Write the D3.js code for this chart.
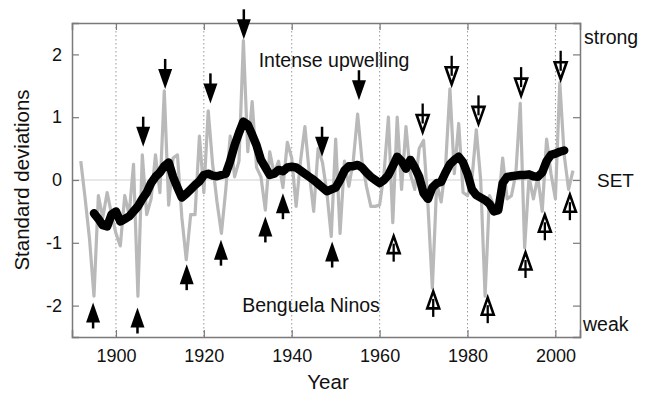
<!DOCTYPE html>
<html>
<head>
<meta charset="utf-8">
<script src="https://cdn.jsdelivr.net/npm/d3@7"></script>
<style>
  html, body { margin: 0; padding: 0; background: #fff; }
  svg { display: block; font-family: "Liberation Sans", Arial, sans-serif; }
</style>
</head>
<body>
<svg id="chart" width="646" height="395"></svg>
<script>
// ---- data ----
const annualYears = d3.range(1892, 2005);
const annualValues = [
  0.30, -0.30, -0.95, -1.85, -0.25, -0.60, -0.20, -0.55, -0.85, -1.05,
  -0.25, -0.55, 0.25, -1.85, 0.40, -0.55, -0.30, 0.40, -0.20, 1.42,
  -0.40, 0.35, 0.40, -0.60, -1.27, -0.55, -0.55, 0.70, -0.20, 1.10,
  0.25, -0.35, -0.85, -0.15, 0.70, 0.05, 0.30, 2.22, 0.45, 1.25,
  0.20, 0.05, -0.48, 0.45, 0.10, 0.30, -0.12, 0.60, 0.35, -0.42,
  0.30, 0.85, 0.10, -0.50, 0.50, 0.28, -0.20, -0.90, 0.65, -0.85,
  0.30, -0.10, 0.30, 1.05, 0.30, -0.10, -0.42, -0.42, -0.40, 0.10,
  1.00, -0.68, 1.00, -0.15, 0.85, 0.10, -0.15, 0.50, 0.63, -0.40,
  -1.72, -0.05, -0.35, 0.20, 1.45, 0.10, 0.90, -0.20, -0.25, 0.00,
  0.80, 0.00, -1.85, -0.25, -0.40, -0.40, 0.35, -0.30, -0.25, 0.10,
  1.22, -1.08, 0.05, -0.30, 0.05, -0.50, 0.65, 0.10, -0.30, 1.55,
  0.40, -0.15, 0.15
];
const setYears = d3.range(1895, 2003);
const setValues = [
  -0.53, -0.62, -0.72, -0.74, -0.55, -0.50, -0.66, -0.62, -0.58, -0.50,
  -0.42, -0.30, -0.20, -0.05, 0.05, 0.12, 0.22, 0.28, 0.05, -0.12,
  -0.28, -0.22, -0.15, -0.08, -0.02, 0.08, 0.10, 0.07, 0.06, 0.08,
  0.10, 0.30, 0.55, 0.75, 0.93, 0.88, 0.72, 0.55, 0.32, 0.20,
  0.08, 0.10, 0.16, 0.14, 0.20, 0.21, 0.20, 0.15, 0.10, 0.05,
  0.00, -0.06, -0.12, -0.18, -0.15, -0.12, 0.00, 0.15, 0.22, 0.22,
  0.24, 0.20, 0.12, 0.05, 0.00, -0.05, 0.00, 0.08, 0.22, 0.37,
  0.30, 0.18, 0.32, 0.20, 0.05, -0.21, -0.30, -0.12, -0.05, -0.03,
  0.12, 0.25, 0.32, 0.37, 0.28, 0.10, -0.15, -0.24, -0.28, -0.32,
  -0.38, -0.50, -0.48, -0.05, 0.05, 0.06, 0.07, 0.08, 0.08, 0.09,
  0.06, 0.05, 0.12, 0.30, 0.40, 0.42, 0.45, 0.47
];
// arrows: [year, value at tip]
const upwellingFilled = [[1906.2, 0.53], [1911.2, 1.45], [1921.5, 1.22], [1929.1, 2.24], [1946.9, 0.37], [1955.3, 1.27]];
const upwellingOpen = [[1969.8, 0.74], [1976.4, 1.5], [1982.5, 0.87], [1992.2, 1.32], [2001.2, 1.58]];
const ninoFilled = [[1894.8, -1.95], [1904.9, -2.03], [1916.1, -1.34], [1923.9, -0.95], [1934.0, -0.58], [1938.0, -0.21], [1949.2, -0.98]];
const ninoOpen = [[1963.2, -0.87], [1972.2, -1.75], [1984.6, -1.85], [1993.2, -1.13], [1997.6, -0.53], [2003.3, -0.21]];
const xTicks = [1900, 1920, 1940, 1960, 1980, 2000];
const yTicks = [-2, -1, 0, 1, 2];

// ---- layout ----
const svg = d3.select("#chart");
const L = 72, R = 580, T = 23, B = 337;
const x = d3.scaleLinear().domain([1890, 2005.6]).range([L, R]);
const y = d3.scaleLinear().domain([-2.5, 2.5]).range([B, T]);
const axisGray = "#7a7a7a";
const tickFont = 18;

// grid
svg.append("g").selectAll("line").data(xTicks).join("line")
  .attr("x1", d => x(d)).attr("x2", d => x(d)).attr("y1", T).attr("y2", B)
  .attr("stroke", "#9a9a9a").attr("stroke-width", 1).attr("stroke-dasharray", "1.5,2.5");
svg.append("line").attr("x1", L).attr("x2", R).attr("y1", y(0)).attr("y2", y(0))
  .attr("stroke", "#d0d0d0").attr("stroke-width", 1);

// series
const line = d3.line().x(d => x(d[0])).y(d => y(d[1]));
svg.append("path").datum(annualYears.map((yr, i) => [yr, annualValues[i]]))
  .attr("d", line).attr("fill", "none").attr("stroke", "#b9b9b9")
  .attr("stroke-width", 3.2).attr("stroke-linejoin", "round");
svg.append("path").datum(setYears.map((yr, i) => [yr, setValues[i]]))
  .attr("d", line).attr("fill", "none").attr("stroke", "#000")
  .attr("stroke-width", 8.5).attr("stroke-linejoin", "round").attr("stroke-linecap", "round");

// axes (frame with inward ticks)
const axL = d3.axisLeft(y).tickValues(yTicks).tickSize(-7).tickPadding(10).tickFormat(d3.format("d"));
const axR = d3.axisRight(y).tickValues(yTicks).tickSize(-7).tickFormat("");
const axB = d3.axisBottom(x).tickValues(xTicks).tickSize(-7).tickPadding(12).tickFormat(d3.format("d"));
const axT = d3.axisTop(x).tickValues(xTicks).tickSize(-7).tickFormat("");
function styleAxis(g) {
  g.select(".domain").attr("stroke", axisGray).attr("stroke-width", 1.5);
  g.selectAll(".tick line").attr("stroke", axisGray).attr("stroke-width", 1.2);
  g.selectAll(".tick text").attr("fill", "#111").style("font-size", tickFont + "px")
    .style("font-family", "Liberation Sans, Arial, sans-serif");
}
svg.append("g").attr("transform", `translate(${L},0)`).call(axL).call(styleAxis)
  .selectAll(".tick text").text(d => d < 0 ? "-" + Math.abs(d) : d);
svg.append("g").attr("transform", `translate(${R},0)`).call(axR).call(styleAxis);
svg.append("g").attr("transform", `translate(0,${B})`).call(axB).call(styleAxis);
svg.append("g").attr("transform", `translate(0,${T})`).call(axT).call(styleAxis);

// arrows
const HL = 20, HW = 7, SL = 30;
const ag = svg.append("g");
upwellingFilled.forEach(([yr, v]) => {
  const px = x(yr), py = y(v);
  ag.append("line").attr("x1", px).attr("x2", px).attr("y1", py - SL).attr("y2", py - HL + 1)
    .attr("stroke", "#000").attr("stroke-width", 2.5);
  ag.append("path").attr("d", `M${px - HW},${py - HL}L${px + HW},${py - HL}L${px},${py}Z`).attr("fill", "#000");
});
upwellingOpen.forEach(([yr, v]) => {
  const px = x(yr), py = y(v);
  ag.append("path").attr("d", `M${px - HW + 1},${py - HL + 1.5}L${px + HW - 1},${py - HL + 1.5}L${px},${py - 1.5}Z`)
    .attr("fill", "#fff").attr("stroke", "#000").attr("stroke-width", 2.6).attr("stroke-linejoin", "miter");
  ag.append("line").attr("x1", px).attr("x2", px).attr("y1", py - SL).attr("y2", py - 10)
    .attr("stroke", "#000").attr("stroke-width", 2.3);
});
ninoFilled.forEach(([yr, v]) => {
  const px = x(yr), py = y(v);
  ag.append("path").attr("d", `M${px - HW},${py + HL}L${px + HW},${py + HL}L${px},${py}Z`).attr("fill", "#000");
  ag.append("line").attr("x1", px).attr("x2", px).attr("y1", py + HL - 1).attr("y2", py + 26)
    .attr("stroke", "#000").attr("stroke-width", 2.5);
});
ninoOpen.forEach(([yr, v]) => {
  const px = x(yr), py = y(v);
  ag.append("path").attr("d", `M${px - HW + 1},${py + HL - 1.5}L${px + HW - 1},${py + HL - 1.5}L${px},${py + 1.5}Z`)
    .attr("fill", "#fff").attr("stroke", "#000").attr("stroke-width", 2.6);
  ag.append("line").attr("x1", px).attr("x2", px).attr("y1", py + 9).attr("y2", py + 27)
    .attr("stroke", "#000").attr("stroke-width", 2.3);
});

// labels
const txt = (s, tx, ty, opts = {}) => svg.append("text").text(s)
  .attr("x", tx).attr("y", ty).attr("fill", "#111")
  .style("font-size", (opts.size || tickFont) + "px")
  .attr("text-anchor", opts.anchor || "start")
  .attr("transform", opts.rotate ? `rotate(-90,${tx},${ty})` : null);
txt("Intense upwelling", 334, 67, { anchor: "middle", size: 19.5 });
txt("Benguela Ninos", 311, 312, { anchor: "middle", size: 19.5 });
txt("strong", 584, 44, { size: 19.5 });
txt("SET", 597, 187, { size: 19 });
txt("weak", 583, 331, { size: 19.5 });
txt("Year", 328, 389, { anchor: "middle", size: 20.5 });
txt("Standard deviations", 29, 180, { anchor: "middle", size: 20.5, rotate: true });
</script>
</body>
</html>
